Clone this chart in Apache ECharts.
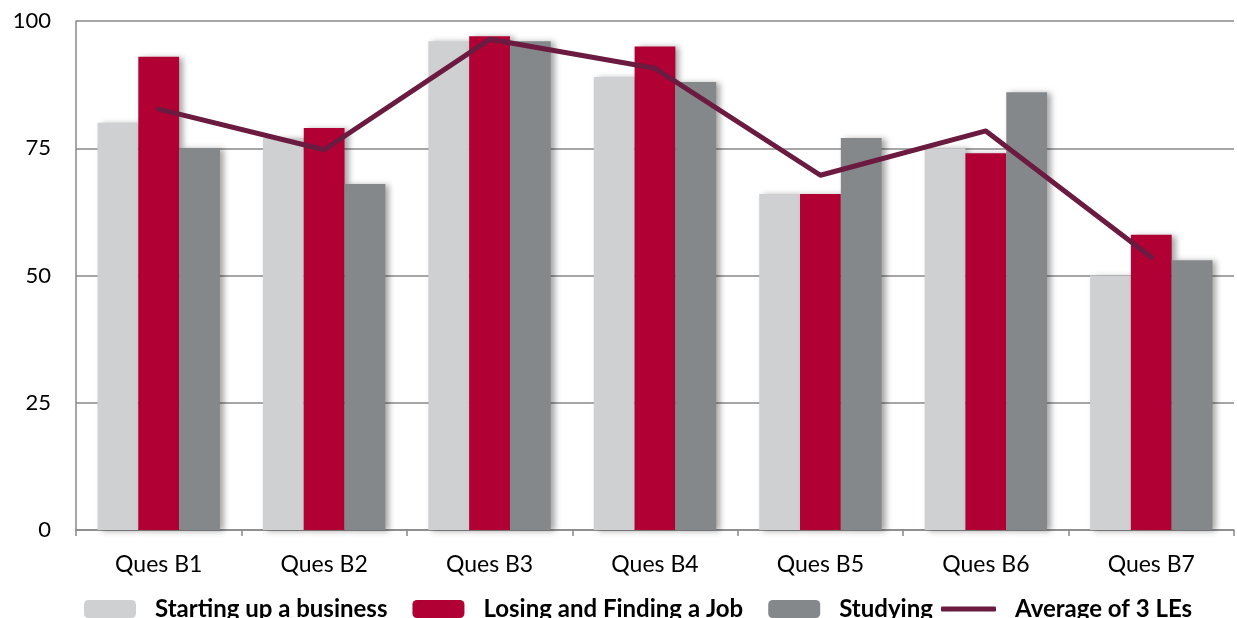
<!DOCTYPE html>
<html>
<head>
<meta charset="utf-8">
<script src="https://cdn.jsdelivr.net/npm/echarts@6/dist/echarts.min.js"></script>
<style>html,body{margin:0;padding:0;background:#fff;}#c{width:1237px;height:618px;}</style>
</head>
<body>
<div id="c"></div>
<script>
const categories = ['Ques B1','Ques B2','Ques B3','Ques B4','Ques B5','Ques B6','Ques B7'];
const startingUp = [80, 77, 96, 89, 66, 75, 50];
const losingJob = [93, 79, 97, 95, 66, 74, 58];
const studying = [75, 68, 96, 88, 77, 86, 53];
const average = [82.7, 74.7, 96.4, 90.7, 69.7, 78.4, 53.6];
const yTicks = [0, 25, 50, 75, 100];

const FONT = 'Lato, "Open Sans", sans-serif';
const LINE_COLOR = '#6b1a40';
const shadow = {shadowColor:'rgba(0,0,0,0.35)', shadowBlur:6, shadowOffsetX:4, shadowOffsetY:1};
const legendText = {fontFamily:FONT, fontWeight:'bold', fontSize:24, color:'#000', padding:[0,0,0,14]};
const chart = echarts.init(document.getElementById('c'));
chart.setOption({
  animation:false,
  grid:{left:76, right:3, top:21, bottom:88, containLabel:false},
  legend:[{
    bottom:-8, left:79,
    itemWidth:52, itemHeight:18, itemGap:25,
    textStyle:legendText,
    data:['Starting up a business','Losing and Finding a Job','Studying']
  },{
    bottom:-8, left:936,
    itemWidth:55, itemHeight:5, icon:'roundRect',
    textStyle:legendText,
    itemStyle:{color:LINE_COLOR},
    data:['Average of 3 LEs']
  }],
  xAxis:{
    type:'category', data:categories,
    axisLine:{lineStyle:{color:'#888', width:1.5}},
    axisTick:{show:true, length:6, lineStyle:{color:'#888', width:1.5}},
    axisLabel:{fontFamily:FONT, fontSize:23, color:'#000', margin:23}
  },
  yAxis:{
    type:'value', min:yTicks[0], max:yTicks[yTicks.length-1], interval:25,
    axisLine:{show:true, lineStyle:{color:'#888', width:1.5}},
    axisTick:{show:false},
    splitLine:{lineStyle:{color:'#888', width:1.5}},
    axisLabel:{fontFamily:FONT, fontSize:22, color:'#000', margin:25}
  },
  series:[
    {name:'Starting up a business', type:'bar', data:startingUp, barGap:'0%', barCategoryGap:'26%',
     itemStyle:Object.assign({color:'#cfd0d2'}, shadow)},
    {name:'Losing and Finding a Job', type:'bar', data:losingJob, barGap:'0%', barCategoryGap:'26%',
     itemStyle:Object.assign({color:'#b00034'}, shadow)},
    {name:'Studying', type:'bar', data:studying, barGap:'0%', barCategoryGap:'26%',
     itemStyle:Object.assign({color:'#85888b'}, shadow)},
    {name:'Average of 3 LEs', type:'line', data:average, symbol:'none', z:5,
     lineStyle:{color:LINE_COLOR, width:5, cap:'round', join:'round'},
     itemStyle:{color:LINE_COLOR}}
  ]
});
</script>
</body>
</html>
